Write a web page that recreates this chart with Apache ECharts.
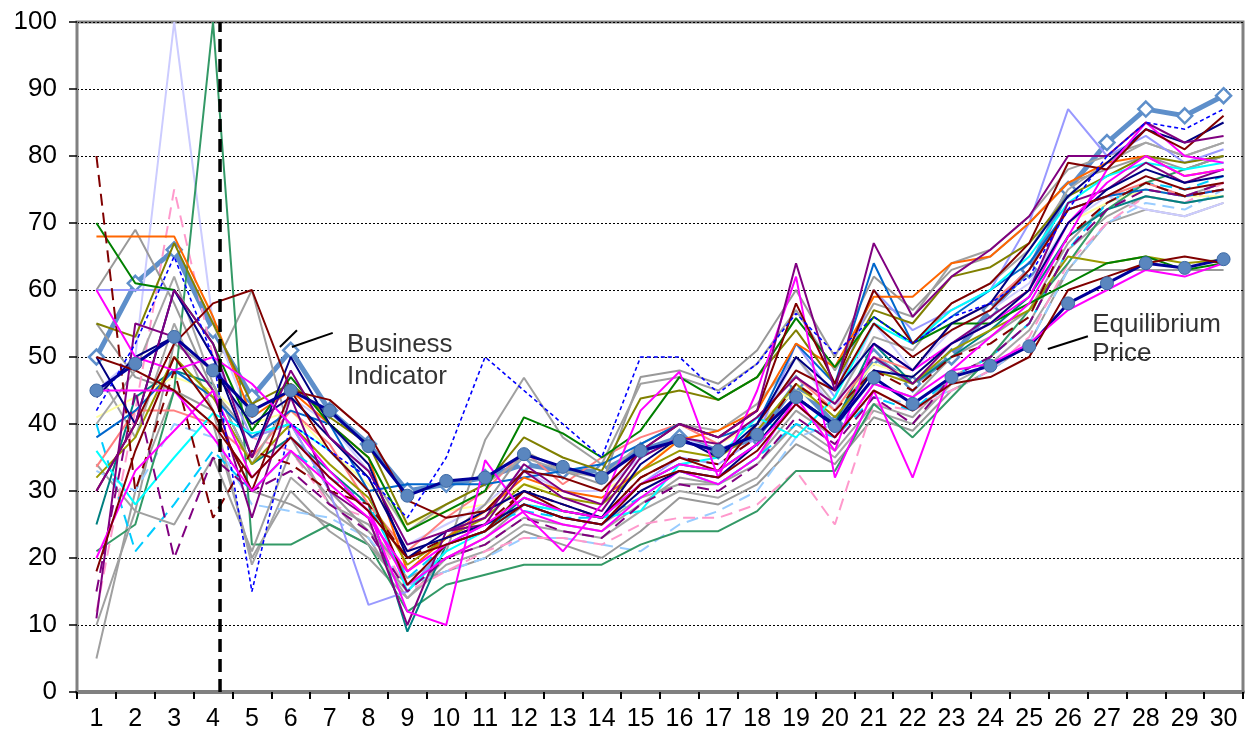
<!DOCTYPE html>
<html lang="en">
<head>
<meta charset="UTF-8">
<script src="https://cdn.jsdelivr.net/npm/echarts@6/dist/echarts.min.js"></script>
<title>business indicator</title>
<style>
  html, body { margin: 0; padding: 0; background: #fff; }
  #main { width: 1251px; height: 742px; }
</style>
</head>
<body>
<div id="main"></div>
<script type="text/javascript">
// periods on the x axis
let days = ['1','2','3','4','5','6','7','8','9','10','11','12','13','14','15',
            '16','17','18','19','20','21','22','23','24','25','26','27','28','29','30'];

// the two highlighted series
let bizIndicator = [50,61,66,54,44,51,42,37,30,31,32,34,33,33,36,38,36,38,46,40,50,46,50,57,63,75,82,87,86,89];
let equilibrium  = [45,49,53,48,42,45,42,36.7,29.3,31.5,32,35.5,33.6,32,36,37.5,36,38.4,44,39.7,46.9,43,47,48.7,51.6,58,61,64,63.3,64.6];

// individual traders
let blueDash     = [42,52,65,50,15,40,36,32,26,35,50,45,40,35,50,50,44.6,49,56.5,50.5,56,52,56,58,62,72,80,85,84,87];
let lilac        = [45,50,100,55,40,44,40,33,22,25,28,33,30,30,35,38,36,39,50,42,55,48,54,57,61,70,74,72,71,73];
let seaGreen     = [21,25,45,100,22,22,25,22,12,16,17.5,19,19,19,22,24,24,27,33,33,43,38,44,50,57,64,72,76,78,80];
let orange       = [68,68,68,56,41,45,40,35,18,23,27,32,30,29,33,37.6,39,42,52,48.5,59,59,64,65,70,76,79,80,77,78];
let green        = [70,61,60,52,39,47,40,35,24,27,30,41,38.6,35,39,47,43.6,47,55.8,48.5,56,52,55,55,58,61,64,65,63,64];
let olive        = [55,53,67,55,43,46,41,37,25,28,31,38,35,33,43.8,45,43.6,47,54,46,57,55,62,63.4,67,74,77,80,79,80];
let oliveLow     = [32,38,50,44,34,40,34,29,19,23,26,31,29,28,33,36,35,39,46,41,48,46,51,54,57,65,64,65,64,64.5];
let purpleTop    = [30,40,60,52,35,48,38,33,22,24,26,34,30,28,36,40,38,42,64,45,67,56,62,66,71,80,80,85,82,83];
let maroonA      = [30,40,52,58,60,45,43.6,38.6,28.6,26,27,33,32,30,36,40,38,42,58,46,60,52,58,61,67,79,78,84,81,86];
let maroonB      = [18,36,50,42,30,45,36,30,16,22,24,30,27,26,32,35,33,40,48,45,55,50,54,57,63,72,74,77,75,76];
let maroonLow    = [50,48,45,40,32,38,32,27,20,22,24,28,26,25,31,33,32,36,43,38,45,42,46,47,50,60,62,64,65,64];
let maroonDash   = [80,30,48,26,36,34,30,28,20,23,25,30,28,26,32,35,34,38,46,42,48,45,50,52,56,68,73,76,74,75];
let purpleDash   = [15,45,20,35,30,33,28,24,15,20,22,26,24,23,28,31,30,34,41,37,44,40,47,50,55,66,72,75,74,76];
let purpleB      = [11,55,53,45,26,44,30,26,10,24,25,33,29,27,35,38,37,41,47,43,50,46,52,56,60,73,75,79,76,78];
let magentaA     = [60,50,48,50,46,40,33,27,12,10,34.6,26.7,21,28,42,47.8,32,45,62,32,45,32,48,53,58,68,78,85,80,79];
let magentaB     = [45,45,45,38,30,36,31,26,18,22,25,29,27,26,31,34,33,37,43,38,46,44,48,49,52,57,60,63,62,64];
let magentaC     = [20,33,39,45,32,38,32,27,16,20,23,27,25,24,29,33,31,35,44,36,52,48,52,55,59,70,76,80,77,78];
let cyan         = [36,28,35,41.6,38.6,40,36,30,15,21,24,28,27,26,27,34,35,41,38,44,55,52,57,60,65,73,77,79,78,79];
let skyDash      = [40,21,28,36,30,36,32,28,17,22,25,27,26,26,29,33,31,35,40,38,44,42,47,50,55,66,73,76,75,77];
let paleBlueDash = [33,30,40,38,28,27,26,23,16,18,20,23,23,22,21,25,27,30,38,40,44,43,45,48,52,63,70,73,72,75];
let pinkDash     = [12,42,75,50,38,36,28,26,15,18,21,23,23,22,25,26,26,28,33,25,43,42,45,48,53,64,70,74,73,76];
let navyX1       = [50,40,60,50,35,50,40,34,20,24,27,30,28,26,34,38,35,40,50,45,52,48,55,58,66,74,79,84,82,85];
let navyX2       = [44,50,53,48,40,44,38,32,21,23,25,28,26,25,30,33,32,37,44,40,48,47,52,55,60,70,75,78,76,77];
let teal         = [25,44,48,46,34,38,33,28,9,22,24,29,27,26,31,34,33,37,44,40,52,46,50,54,59,68,72,74,73,74];
let midBlue      = [38,42,48,44,38,42,40,30,31,31,31,32,33,34,37,40,38,40,52,46,64,52,56,60,64,72,74,75,74,75];
let salmon       = [33.6,42,42,40,35,42,37,28,21,26,30,36,31,35,38,40,37,41,47,42,50,48,55,58,63,72,74,76,74,75];
let paleYellow   = [41,44,47,45,40,42,36,31,25,27,28,31,30,30,33,38,37,40,45,42,49,47,52,55,60,70,73,75,74,74];
let lavender     = [60,60,60,50,38,40,30,13,15,22,24,28,27,26,31,35,34,38,52,44,60,54,57,60,70,87,80,83,79,81];
let gray1        = [5,30,45,40,20,30,24,20,14,20,23,28,26,25,29,31,31,34,40,36,43,41,47,50,55,66,71,74,73,74];
let gray2        = [60,69,58,45,38,40,30,24,18,23,28,36,33,31,47,48,46,51,60,50,62,57,63,65,70,76,78,80,78,80];
let gray3        = [10,27,25,35,21,36,29,22,15,21,37.6,46.9,38,34,46,47,45,49,57,48,58,56,64,66,71,78,80,82,80,82];
let gray4        = [48,38,55,42,19,32,27,23,14,19,21,25,24,23,27,30,29,32,39,35,42,40,46,49,54,63,70,72,71,73];
let gray5        = [34,27,52,48,60,38,28,25,17,20,22,26,25,24,28,32,31,35,42,38,46,44,50,53,57,67,73,76,74,76];
let gray6        = [55,47,45,42,30,28,25,22,16,18,20,24,22,20,24,29,28,31,37,34,41,39,45,48,52,63,63,63,63,63];
let gray7        = [40,48,62,46,34,44,38,33,24,28,31,35,33,32,37,40,39,43,50,43,53,51,58,61,66,75,79,82,80,82];

// vertical marker and annotation anchors (x in period units, y in value units)
let cutPeriod = 4.18;
let bizLabelAt = [7.45, 49.4];
let bizLeader = [[[5.72, 51.5], [6.16, 54]], [[6.03, 51.5], [7.08, 53.6]]];
let eqLabelAt = [26.62, 52.7];
let eqLeader = [[25.48, 51.2], [26.51, 53.1]];

let tradersBack = [
  { data: gray1, color: '#a0a0a0' },
  { data: gray4, color: '#a6a6a6' },
  { data: gray6, color: '#999999' },
  { data: gray5, color: '#a0a0a0' },
  { data: paleYellow, color: '#ffffa0' },
  { data: paleBlueDash, color: '#99ccff', dash: [12, 7] },
  { data: pinkDash, color: '#ff99cc', dash: [12, 7] },
  { data: skyDash, color: '#00ccff', dash: [12, 7] },
  { data: lilac, color: '#ccccff' },
  { data: seaGreen, color: '#339966' },
  { data: teal, color: '#008080' },
  { data: salmon, color: '#ff8080' },
  { data: gray2, color: '#999999' },
  { data: gray3, color: '#a0a0a0' },
  { data: gray7, color: '#a6a6a6' },
  { data: lavender, color: '#9999ff' },
  { data: midBlue, color: '#0066cc' },
  { data: orange, color: '#ff6600' }
];
let tradersFront = [
  { data: olive, color: '#808000' },
  { data: oliveLow, color: '#999900' },
  { data: green, color: '#008000' },
  { data: cyan, color: '#00ffff' },
  { data: purpleDash, color: '#800080', dash: [12, 7] },
  { data: maroonDash, color: '#800000', dash: [12, 7] },
  { data: purpleB, color: '#800080' },
  { data: magentaC, color: '#ff00ff' },
  { data: navyX2, color: '#000080' },
  { data: maroonB, color: '#800000' },
  { data: navyX1, color: '#000080' },
  { data: magentaA, color: '#ff00ff' },
  { data: maroonA, color: '#800000' },
  { data: purpleTop, color: '#800080' },
  { data: blueDash, color: '#0000ff', dash: [4, 3], width: 1.6 }
];
let tradersTop = [
  { data: magentaB, color: '#ff00ff' },
  { data: maroonLow, color: '#800000' }
];

let font = 'Liberation Sans, Arial, sans-serif';
let myChart = echarts.init(document.getElementById('main'));

function traderSeries(t) {
  return {
    type: 'line',
    data: t.data,
    showSymbol: false,
    silent: true,
    lineStyle: { color: t.color, width: t.width || 2, type: t.dash || 'solid' }
  };
}

let series = tradersBack.map(traderSeries);

// drawn underneath the individual traders, like in the original
series.push({
  name: 'Business Indicator',
  type: 'line',
  z: 1,
  data: bizIndicator,
  symbol: 'diamond',
  symbolSize: 15,
  lineStyle: { color: '#5e8fca', width: 5 },
  itemStyle: { color: '#ffffff', borderColor: '#5e8fca', borderWidth: 2.5 }
});

series = series.concat(tradersFront.map(traderSeries));

series.push({
  name: 'Equilibrium Price',
  type: 'line',
  data: equilibrium,
  symbol: 'circle',
  symbolSize: 13,
  lineStyle: { color: '#000099', width: 3 },
  itemStyle: { color: '#5a86bf', borderColor: '#3d6aa5', borderWidth: 1 }
});

series = series.concat(tradersTop.map(traderSeries));

// dashed vertical cut line
series.push({
  type: 'line',
  xAxisIndex: 1,
  data: [[cutPeriod, 0], [cutPeriod, 100]],
  showSymbol: false,
  silent: true,
  z: 5,
  lineStyle: { color: '#000', width: 3.5, type: [13, 7] }
});

// leader lines for annotations
bizLeader.concat([eqLeader]).forEach(function (seg) {
  series.push({
    type: 'line',
    xAxisIndex: 1,
    data: seg,
    showSymbol: false,
    silent: true,
    z: 5,
    lineStyle: { color: '#000', width: 2 }
  });
});

// annotation texts
series.push({
  type: 'scatter',
  xAxisIndex: 1,
  symbolSize: 0,
  silent: true,
  z: 6,
  data: [
    { value: bizLabelAt, label: { formatter: 'Business\nIndicator', lineHeight: 32 } },
    { value: eqLabelAt, label: { formatter: 'Equilibrium\nPrice', lineHeight: 29 } }
  ],
  label: {
    show: true,
    position: 'right',
    distance: 0,
    color: '#000',
    fontSize: 26,
    fontFamily: font,
    align: 'left'
  }
});

let option = {
  animation: false,
  backgroundColor: '#fff',
  grid: {
    left: 77, right: 8, top: 22, bottom: 50,
    show: true,
    borderColor: '#808080',
    borderWidth: 3
  },
  xAxis: [{
    type: 'category',
    data: days,
    boundaryGap: true,
    axisLine: { lineStyle: { color: '#808080', width: 4 } },
    axisTick: { show: true, length: 7, lineStyle: { color: '#000', width: 2 } },
    axisLabel: { color: '#000', fontSize: 25, fontFamily: font, margin: 15, interval: 0 },
    splitLine: { show: false }
  }, {
    type: 'value',
    min: 0.5,
    max: 30.5,
    show: false
  }],
  yAxis: {
    type: 'value',
    min: 0,
    max: 100,
    interval: 10,
    axisLine: { show: true, lineStyle: { color: '#808080', width: 2 } },
    axisTick: { show: true, length: 8, lineStyle: { color: '#000', width: 1.5 } },
    axisLabel: { color: '#000', fontSize: 26, fontFamily: font, margin: 20 },
    splitLine: { show: true, lineStyle: { color: '#000', width: 1, type: [2, 2] } }
  },
  series: series
};

myChart.setOption(option);
</script>
</body>
</html>
